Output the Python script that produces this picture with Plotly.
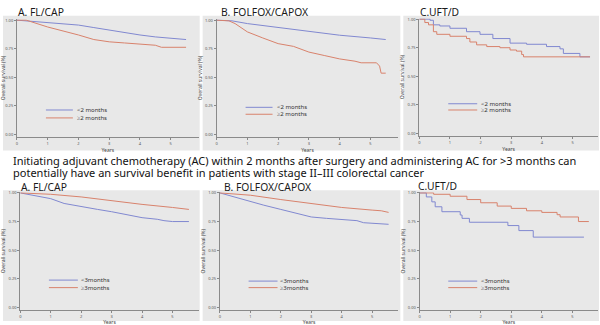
import plotly.graph_objects as go

W, H = 600, 325
BLUE = "#8088d0"
RED = "#d8826c"
GREY_BG = "#e8e8e8"

# ---------------- data (years, survival) ----------------
# Top row: timing of AC initiation
topA_t_lt2 = [0, 0.5, 1, 1.5, 2, 2.5, 3, 3.5, 4, 4.5, 5, 5.5]
topA_s_lt2 = [1.0, 0.99, 0.98, 0.97, 0.957, 0.935, 0.913, 0.89, 0.87, 0.853, 0.84, 0.83]
topA_t_ge2 = [0, 0.3, 1, 1.5, 2, 2.5, 3, 3.5, 4, 4.5, 4.7, 5, 5.5]
topA_s_ge2 = [1.0, 1.0, 0.94, 0.906, 0.87, 0.83, 0.81, 0.80, 0.79, 0.78, 0.762, 0.762, 0.762]

topB_t_lt2 = [0, 0.5, 1, 2, 3, 4, 5, 5.5]
topB_s_lt2 = [1.0, 0.994, 0.97, 0.935, 0.897, 0.868, 0.844, 0.83]
topB_t_ge2 = [0, 0.4, 0.6, 1, 1.5, 2, 2.5, 3, 3.5, 4, 4.5, 4.7, 5.2, 5.3, 5.35, 5.5]
topB_s_ge2 = [1.0, 0.994, 0.97, 0.897, 0.844, 0.794, 0.77, 0.72, 0.69, 0.66, 0.64, 0.626, 0.626, 0.597, 0.535, 0.535]

topC_t_lt2 = [0, 0.35, 0.46, 0.67, 1.0, 1.54, 1.98, 2.4, 2.96, 3.5, 4.15, 4.59, 4.7, 5.24, 5.57]
topC_s_lt2 = [1.0, 0.99, 0.95, 0.94, 0.92, 0.89, 0.867, 0.83, 0.79, 0.78, 0.76, 0.74, 0.70, 0.67, 0.67]
topC_t_ge2 = [0, 0.18, 0.3, 0.46, 0.57, 1.0, 1.54, 1.65, 1.87, 2.2, 2.63, 2.96, 3.17, 3.34, 3.4, 5.57]
topC_s_ge2 = [1.0, 0.97, 0.95, 0.89, 0.867, 0.85, 0.83, 0.80, 0.775, 0.76, 0.75, 0.73, 0.72, 0.69, 0.67, 0.67]

# Bottom row: duration of AC
botA_t_lt3 = [0, 0.46, 1, 1.44, 2, 2.54, 3, 3.5, 4, 4.5, 4.72, 5, 5.54]
botA_s_lt3 = [1.0, 0.98, 0.95, 0.908, 0.879, 0.856, 0.836, 0.807, 0.784, 0.77, 0.758, 0.75, 0.75]
botA_t_ge3 = [0, 1, 2, 3, 4, 5, 5.54]
botA_s_ge3 = [1.0, 0.988, 0.965, 0.93, 0.90, 0.873, 0.856]

botB_t_lt3 = [0, 0.46, 1, 1.44, 2, 2.54, 3, 3.5, 4, 4.5, 4.72, 5, 5.54]
botB_s_lt3 = [1.0, 0.965, 0.922, 0.893, 0.856, 0.82, 0.79, 0.778, 0.77, 0.758, 0.74, 0.735, 0.726]
botB_t_ge3 = [0, 1, 2, 3, 4, 5, 5.3, 5.54]
botB_s_ge3 = [1.0, 0.98, 0.942, 0.908, 0.873, 0.85, 0.844, 0.83]

botC_t_lt3 = [0, 0.22, 0.4, 0.51, 0.73, 1.33, 1.39, 1.63, 2.89, 3.25, 3.72, 5.38]
botC_s_lt3 = [1.0, 0.965, 0.922, 0.879, 0.836, 0.807, 0.778, 0.744, 0.715, 0.671, 0.614, 0.614]
botC_t_ge3 = [0, 0.46, 1, 1.55, 2, 2.54, 3, 3.5, 4, 4.5, 4.6, 5.2, 5.54]
botC_s_ge3 = [1.0, 0.988, 0.971, 0.942, 0.914, 0.885, 0.865, 0.844, 0.83, 0.81, 0.79, 0.75, 0.75]

y_ticks = [0.0, 0.25, 0.5, 0.75, 1.0]
y_ticklabels = ["0.00", "0.25", "0.50", "0.75", "1.00"]
x_ticks = [0, 1, 2, 3, 4, 5]

titles = ["A. FL/CAP", "B. FOLFOX/CAPOX", "C.UFT/D", "A. FL/CAP", "B. FOLFOX/CAPOX", "C.UFT/D"]
top_labels = ["<2 months", "\u22652 months"]
bot_labels = ["<3months", "\u22653months"]
caption1 = "Initiating adjuvant chemotherapy (AC) within 2 months after surgery and administering AC for >3 months can"
caption2 = "potentially have an survival benefit in patients with stage II\u2013III colorectal cancer"

panels = [
    (topA_t_lt2, topA_s_lt2, topA_t_ge2, topA_s_ge2, "linear", top_labels),
    (topB_t_lt2, topB_s_lt2, topB_t_ge2, topB_s_ge2, "linear", top_labels),
    (topC_t_lt2, topC_s_lt2, topC_t_ge2, topC_s_ge2, "hv", top_labels),
    (botA_t_lt3, botA_s_lt3, botA_t_ge3, botA_s_ge3, "linear", bot_labels),
    (botB_t_lt3, botB_s_lt3, botB_t_ge3, botB_s_ge3, "linear", bot_labels),
    (botC_t_lt3, botC_s_lt3, botC_t_ge3, botC_s_ge3, "hv", bot_labels),
]

# ---------------- layout geometry (pixels) ----------------
# plot areas: (x0, x1, ytop, ybottom, xmax, ymin, ymax)
areas = [
    (16, 198, 17.3, 136, 5.91, -0.023, 1.009),
    (216, 398, 17.3, 136, 5.91, -0.023, 1.009),
    (419, 598, 16.7, 135, 5.83, -0.02, 1.005),
    (19.3, 198, 192, 311, 5.86, -0.023, 1.006),
    (219.3, 398, 192, 311, 5.86, -0.023, 1.006),
    (419.3, 598, 192, 311, 5.84, -0.023, 1.006),
]
panel_bg = [
    (2, 199, 14, 150), (202, 400, 14, 150), (403, 599, 14, 150),
    (2, 199, 190, 322), (202, 400, 190, 322), (403, 599, 190, 322),
]
title_pos = [(15, 10), (218, 10), (418, 10), (18, 187), (221, 187), (416, 186)]
legend_pos = [  # x line start, x line end, y1, y2, x text
    (45, 72, 109, 117, 75),
    (245, 272, 106.3, 113.3, 275),
    (448, 477, 102.7, 109, 480),
    (48, 77, 280.7, 288.3, 79),
    (248, 277, 281.7, 288.3, 278),
    (448, 477, 281.7, 288.3, 480),
]

def px(x):
    return x / W

def py(y):
    return 1 - y / H

fig = go.Figure()
shapes = []
annotations = []
layout = {}

for i, (p, a) in enumerate(zip(panels, areas)):
    t1, s1, t2, s2, shape, labels = p
    x0, x1, yt, yb, xmax, ymin, ymax = a
    sfx = "" if i == 0 else str(i + 1)
    fig.add_trace(go.Scatter(x=t1, y=s1, mode="lines", line=dict(color=BLUE, width=1, shape=shape),
                             xaxis="x" + sfx, yaxis="y" + sfx, showlegend=False, hoverinfo="skip"))
    fig.add_trace(go.Scatter(x=t2, y=s2, mode="lines", line=dict(color=RED, width=1, shape=shape),
                             xaxis="x" + sfx, yaxis="y" + sfx, showlegend=False, hoverinfo="skip"))
    layout["xaxis" + sfx] = dict(
        domain=[px(x0), px(x1)], range=[0, xmax], anchor="y" + sfx,
        tickvals=x_ticks, ticks="outside", ticklen=2, tickcolor="#888", tickwidth=0.6,
        tickfont=dict(size=4, color="#555", family="Noto Sans"),
        showline=True, linecolor="#8a8a8a", linewidth=1, showgrid=False, zeroline=False,
        title=dict(text="Years", font=dict(size=5, color="#444", family="Noto Sans"), standoff=3),
        fixedrange=True,
    )
    layout["yaxis" + sfx] = dict(
        domain=[py(yb), py(yt)], range=[ymin, ymax], anchor="x" + sfx,
        tickvals=y_ticks, ticktext=y_ticklabels, ticks="outside", ticklen=2, tickcolor="#888", tickwidth=0.6,
        tickfont=dict(size=4, color="#555", family="Noto Sans"),
        showline=True, linecolor="#8a8a8a", linewidth=1, showgrid=False, zeroline=False,
        title=dict(text="Overall survival (%)", font=dict(size=5, color="#444", family="Noto Sans"), standoff=2),
        fixedrange=True,
    )
    bx0, bx1, by0, by1 = panel_bg[i]
    shapes.append(dict(type="rect", xref="paper", yref="paper", x0=px(bx0), x1=px(bx1), y0=py(by1), y1=py(by0),
                       fillcolor=GREY_BG, line=dict(width=0), layer="below"))
    tx, ty = title_pos[i]
    annotations.append(dict(text=titles[i], xref="paper", yref="paper", x=px(tx), y=py(ty),
                            xanchor="left", yanchor="middle", showarrow=False,
                            font=dict(size=10.3, color="#1a1a1a", family="Noto Sans")))
    lx0, lx1, ly1, ly2, ltx = legend_pos[i]
    for yy, col, lab in [(ly1, BLUE, labels[0]), (ly2, RED, labels[1])]:
        shapes.append(dict(type="line", xref="paper", yref="paper", x0=px(lx0), x1=px(lx1), y0=py(yy), y1=py(yy),
                           line=dict(color=col, width=1)))
        annotations.append(dict(text=lab, xref="paper", yref="paper", x=px(ltx), y=py(yy),
                                xanchor="left", yanchor="middle", showarrow=False, borderpad=0,
                                font=dict(size=6, color="#333", family="Noto Sans")))

annotations.append(dict(text=caption1, xref="paper", yref="paper", x=px(10), y=py(160),
                        xanchor="left", yanchor="middle", showarrow=False,
                        font=dict(size=11, color="#111", family="Noto Sans")))
annotations.append(dict(text=caption2, xref="paper", yref="paper", x=px(10), y=py(172),
                        xanchor="left", yanchor="middle", showarrow=False,
                        font=dict(size=11, color="#111", family="Noto Sans")))

fig.update_layout(
    width=W, height=H, margin=dict(l=0, r=0, t=0, b=0),
    paper_bgcolor="white", plot_bgcolor=GREY_BG,
    shapes=shapes, annotations=annotations, showlegend=False,
    **layout,
)

fig.write_html("out.html", config={"displayModeBar": False},
               post_script="document.body.style.margin='0';document.body.style.overflow='hidden';")
